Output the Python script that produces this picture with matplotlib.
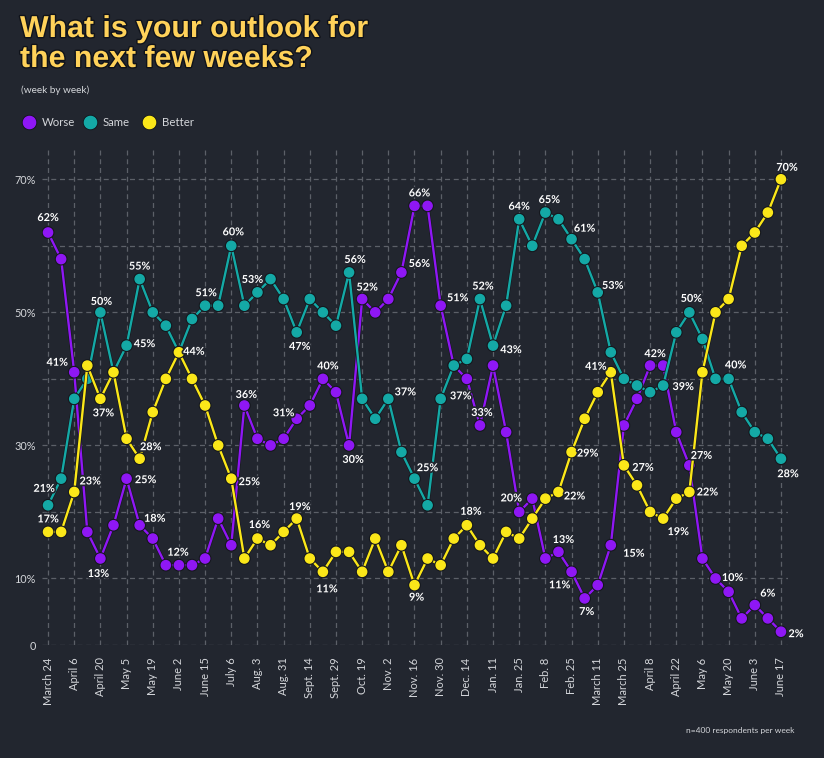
import numpy as np
import matplotlib
matplotlib.use("Agg")
import matplotlib.pyplot as plt
import matplotlib.patheffects as pe

dates = ["March 24", "April 6", "April 20", "May 5", "May 19", "June 2", "June 15",
         "July 6", "Aug. 3", "Aug. 31", "Sept. 14", "Sept. 29", "Oct. 19", "Nov. 2",
         "Nov. 16", "Nov. 30", "Dec. 14", "Jan. 11", "Jan. 25", "Feb. 8", "Feb. 25",
         "March 11", "March 25", "April 8", "April 22", "May 6", "May 20", "June 3",
         "June 17"]

worse = [62, 58, 41, 17, 13, 18, 25, 18, 16, 12, 12, 12, 13, 19, 15, 36, 31, 30, 31, 34,
         36, 40, 38, 30, 52, 50, 52, 56, 66, 66, 51, 42, 40, 33, 42, 32, 20, 22, 13, 14,
         11, 7, 9, 15, 33, 37, 42, 42, 32, 27, 13, 10, 8, 4, 6, 4, 2]
same = [21, 25, 37, 40, 50, 41, 45, 55, 50, 48, 44, 49, 51, 51, 60, 51, 53, 55, 52, 47,
        52, 50, 48, 56, 37, 34, 37, 29, 25, 21, 37, 42, 43, 52, 45, 51, 64, 60, 65, 64,
        61, 58, 53, 44, 40, 39, 38, 39, 47, 50, 46, 40, 40, 35, 32, 31, 28]
better = [17, 17, 23, 42, 37, 41, 31, 28, 35, 40, 44, 40, 36, 30, 25, 13, 16, 15, 17, 19,
          13, 11, 14, 14, 11, 16, 11, 15, 9, 13, 12, 16, 18, 15, 13, 17, 16, 19, 22, 23,
          29, 34, 38, 41, 27, 24, 20, 19, 22, 23, 41, 50, 52, 60, 62, 65, 70]

# labelled points: (index, text)
worse_labels = [(0, "62%"), (2, "41%"), (4, "13%"), (6, "25%"), (7, "18%"), (10, "12%"),
                (15, "36%"), (18, "31%"), (21, "40%"), (23, "30%"), (24, "52%"), (27, "56%"),
                (28, "66%"), (30, "51%"), (33, "33%"), (36, "20%"), (38, "13%"), (40, "11%"),
                (41, "7%"), (43, "15%"), (46, "42%"), (49, "27%"), (51, "10%"), (54, "6%"),
                (56, "2%")]
same_labels = [(0, "21%"), (4, "50%"), (6, "45%"), (7, "55%"), (12, "51%"), (14, "60%"),
               (16, "53%"), (19, "47%"), (23, "56%"), (26, "37%"), (28, "25%"), (30, "37%"),
               (33, "52%"), (34, "43%"), (36, "64%"), (38, "65%"), (40, "61%"), (42, "53%"),
               (47, "39%"), (49, "50%"), (52, "40%"), (56, "28%")]
better_labels = [(0, "17%"), (2, "23%"), (4, "37%"), (7, "28%"), (10, "44%"), (14, "25%"),
                 (16, "16%"), (19, "19%"), (21, "11%"), (28, "9%"), (32, "18%"), (39, "22%"),
                 (40, "29%"), (43, "41%"), (44, "27%"), (47, "19%"), (49, "22%"), (56, "70%")]

# label offsets in pixels (dx, dy), same order as the label lists
worse_off = [(0, 15), (-17, 10), (-2, -15), (19, -1), (15, 7), (-1, 13), (2, 11), (0, 26),
             (5, 13), (4, -14), (5, 12), (18, 9), (5, 13), (17, 8), (2, 13), (-8, 14),
             (18, 19), (-12, -13), (2, -13), (23, -8), (5, 12), (12, 10), (17, 1), (13, 12),
             (15, -2)]
same_off = [(-4, 17), (1, 11), (18, 2), (0, 13), (1, 13), (2, 14), (-5, 13), (3, -14),
            (6, 13), (17, 7), (13, 11), (20, 3), (3, 13), (18, -4), (0, 13), (4, 13),
            (13, 11), (15, 7), (20, -1), (2, 14), (7, 14), (7, -15)]
better_off = [(0, 13), (16, 11), (3, -14), (11, 12), (15, 1), (18, -3), (2, 14), (3, 12),
              (4, -17), (2, -12), (4, 14), (16, -4), (16, -1), (-15, 6), (19, -2), (15, -13),
              (18, 0), (6, 12)]

BG = "#22262f"
PURPLE = "#8f17f5"
TEAL = "#14a9a6"
YELLOW = "#fbe719"
TXT = "#d4d6da"

fig = plt.figure(figsize=(8.24, 7.58), dpi=100, facecolor=BG)
ax = fig.add_axes([41.5 / 824, 113 / 758, 746 / 824, 497 / 758])
ax.set_facecolor(BG)

x = np.arange(len(worse))
outline = [pe.Stroke(linewidth=2.6, foreground="#15181e"), pe.Normal()]
for vals, col in [(worse, PURPLE), (same, TEAL), (better, YELLOW)]:
    ax.plot(x, vals, color=col, lw=1.7, marker="o", ms=6.6, mec=col, zorder=3,
            path_effects=outline)

label_fx = [pe.withStroke(linewidth=2.5, foreground=BG)]
for vals, labs, offs in [(worse, worse_labels, worse_off), (same, same_labels, same_off),
                         (better, better_labels, better_off)]:
    for (i, t), (dx, dy) in zip(labs, offs):
        ax.annotate(t, (i, vals[i]), xytext=(dx, dy), textcoords="offset pixels",
                    ha="center", va="center", color="white", fontsize=7.8,
                    fontweight="bold", family="Lato", zorder=5, path_effects=label_fx)

ax.set_xlim(-0.5, len(worse) - 0.5)
ax.set_ylim(0, 74.7)
ax.set_xticks(np.arange(0, len(worse), 2))
ax.set_xticklabels(dates, rotation=90, fontsize=8, color=TXT, family="Lato")
ax.set_yticks([0, 10, 20, 30, 40, 50, 60, 70])
ax.set_yticklabels(["0", "10%", "", "30%", "", "50%", "", "70%"], fontsize=7.8,
                   color=TXT, family="Lato")
ax.tick_params(axis="x", length=0, pad=9)
ax.tick_params(axis="y", length=0, pad=4)
ax.grid(True, color="#5c6068", ls=(0, (4, 3)), lw=0.9)
ax.set_axisbelow(True)
for s in ax.spines.values():
    s.set_visible(False)

title_fx = [pe.withStroke(linewidth=2, foreground="#10131a")]
fig.text(20 / 824, 1 - 29 / 758, "What is your outlook for", fontsize=21.8,
         fontweight="bold", color="#ffd25a", family="Liberation Sans", va="center",
         path_effects=title_fx)
fig.text(20 / 824, 1 - 59 / 758, "the next few weeks?", fontsize=21.8,
         fontweight="bold", color="#ffd25a", family="Liberation Sans", va="center",
         path_effects=title_fx)
fig.text(21 / 824, 1 - 90 / 758, "(week by week)", fontsize=7.2, color=TXT,
         family="Lato", va="center")

for lx, name, col in [(29, "Worse", PURPLE), (90, "Same", TEAL), (149, "Better", YELLOW)]:
    fig.lines.append(plt.Line2D([lx / 824], [1 - 122 / 758], marker="o", ms=10.5,
                                color=col, mec="#10131a", mew=0.6,
                                transform=fig.transFigure))
    fig.text((lx + 13) / 824, 1 - 122 / 758, name, fontsize=8.2, color=TXT,
             family="Lato", va="center")

fig.text(794 / 824, 1 - 730 / 758, "n=400 respondents per week", fontsize=6,
         color=TXT, family="Lato", ha="right", va="center")

fig.savefig("out.png", dpi=100, facecolor=BG)
